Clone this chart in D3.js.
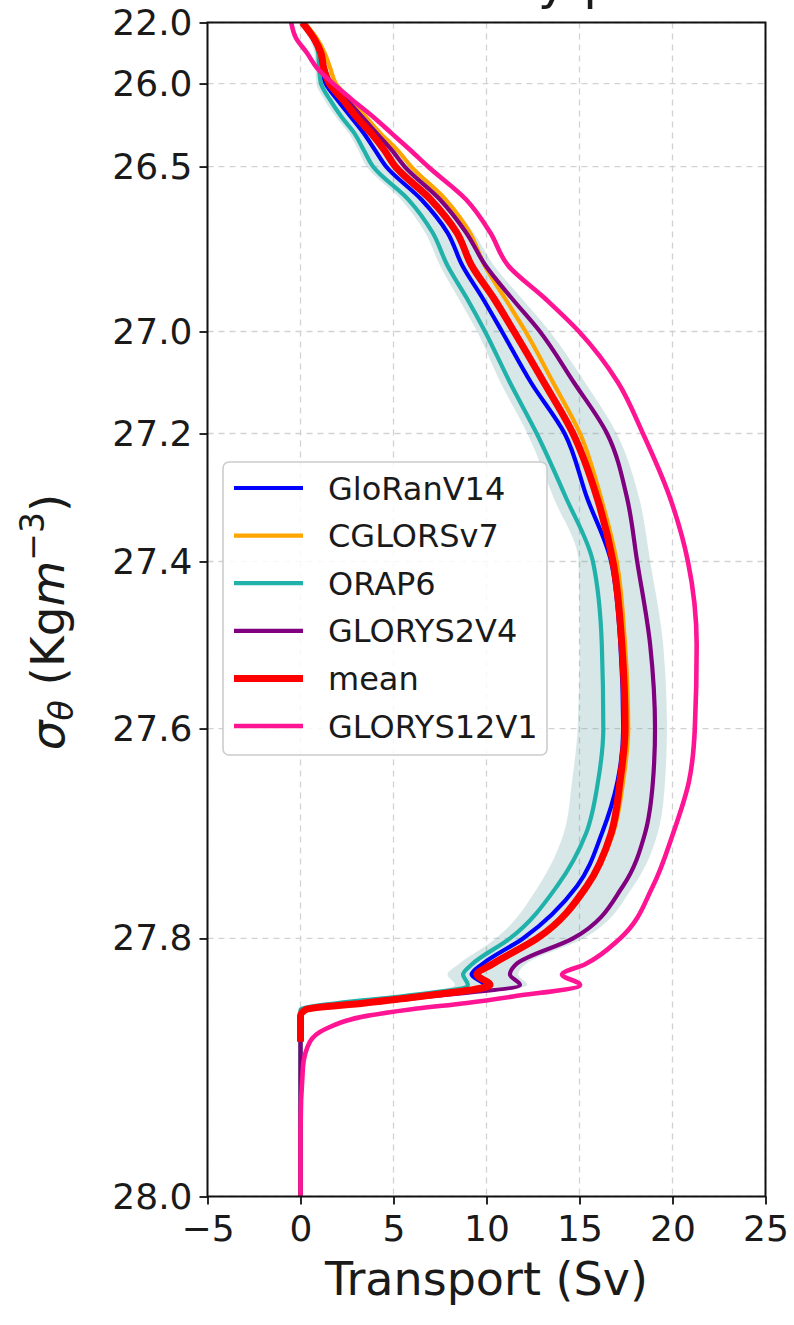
<!DOCTYPE html>
<html>
<head>
<meta charset="utf-8">
<script src="https://cdn.jsdelivr.net/npm/d3@7"></script>
<style>
  html, body { margin: 0; padding: 0; background: #fff; }
  svg { display: block; }
  text { font-family: "DejaVu Sans", sans-serif; fill: #1a1a1a; }
</style>
</head>
<body>
<svg id="chart" width="794" height="1325"></svg>
<script>
// ---------------- data ----------------
const sigma = [22.0, 23.0, 24.0, 25.0, 26.0, 26.1, 26.2, 26.3, 26.4, 26.5, 26.6, 26.7, 26.8, 26.9,
  27.0, 27.1, 27.2, 27.3, 27.4, 27.5, 27.6, 27.65, 27.7, 27.75, 27.8, 27.82, 27.828, 27.836,
  27.845, 27.85, 27.855, 27.86, 27.87, 27.88, 27.9, 27.95, 28.0];

const gloRanV14 = [0.1, 0.7, 1.05, 1.15, 1.35, 2.0, 2.7, 3.4, 4.0, 4.6, 6.5, 7.9, 8.7, 9.8,
  10.83, 12.39, 14.2, 15.4, 16.7, 17.2, 17.35, 17.05, 16.2, 14.87, 11.96, 9.76, 9.2, 9.86,
  6.2, 3.2, 0.13, 0, 0, 0, 0, 0, 0];
const cglorsV7 = [0.2, 0.85, 1.3, 1.6, 1.9, 2.7, 3.5, 4.3, 5.2, 5.95, 7.8, 9.1, 9.9, 11.0,
  12.1, 13.58, 15.03, 16.15, 17.0, 17.45, 17.62, 17.35, 16.8, 15.45, 12.8, 10.3, 9.55, 10.1,
  6.3, 3.3, 0.25, 0, 0, 0, 0, 0, 0];
const orap6 = [0.1, 0.65, 0.95, 1.0, 1.1, 1.6, 2.2, 2.9, 3.4, 3.9, 5.8, 7.1, 7.9, 8.95,
  9.92, 11.26, 12.7, 14.27, 15.72, 16.2, 16.28, 16.0, 15.35, 13.8, 11.26, 9.22, 8.74, 9.0,
  5.35, 2.0, 0, 0, 0, 0, 0, 0, 0];
const glorys2V4 = [0.1, 0.75, 1.15, 1.3, 1.65, 2.5, 3.3, 4.1, 4.9, 5.6, 7.5, 8.9, 9.95, 11.37,
  12.87, 14.7, 16.48, 17.55, 18.1, 18.8, 19.06, 18.95, 18.52, 17.34, 14.65, 11.59, 11.26, 11.8,
  6.96, 3.84, 0.4, 0, 0, 0, 0, 0, 0];
// mean of the four reanalyses (hidden under GLORYS12V1 at the deepest levels)
const meanT = [0.1, 0.7, 1.1, 1.25, 1.55, 2.3, 3.0, 3.8, 4.5, 5.1, 7.0, 8.4, 9.2, 10.4,
  11.48, 13.09, 14.65, 15.94, 16.8, 17.28, 17.45, 17.18, 16.7, 15.4, 12.72, 10.3, 9.49, 10.19,
  6.42, 3.47, 0.3, 0, 0, 0, null, null, null];
const glorys12V1 = [-0.5, -0.25, 0.35, 0.9, 1.75, 2.8, 3.9, 4.9, 5.9, 6.85, 8.9, 10.2, 11.16, 13.15,
  14.97, 17.07, 18.41, 19.86, 20.83, 21.3, 21.2, 20.89, 20.03, 18.95, 17.18, 15.3, 14.06, 15.03,
  11.42, 8.95, 5.88, 3.57, 1.37, 0.51, 0.13, 0, 0];

const bandLower = [-0.1, 0.45, 0.75, 0.8, 0.85, 1.3, 1.9, 2.6, 3.1, 3.55, 5.4, 6.7, 7.5, 8.5,
  9.5, 10.75, 12.2, 13.6, 14.95, 15.0, 14.9, 14.6, 14.15, 12.8, 10.5, 8.5, 7.9, 8.3,
  4.8, 1.6, 0, 0, 0, 0, 0, 0, 0];
const bandUpper = [0.3, 0.95, 1.4, 1.6, 1.95, 2.8, 3.6, 4.4, 5.2, 5.95, 7.9, 9.3, 10.4, 11.9,
  13.4, 15.3, 17.0, 18.2, 18.8, 19.5, 19.7, 19.6, 19.2, 17.9, 15.2, 12.1, 11.7, 12.2,
  7.4, 4.2, 0.6, 0, 0, 0, 0, 0, 0];

const seriesNames = ["GloRanV14", "CGLORSv7", "ORAP6", "GLORYS2V4", "mean", "GLORYS12V1"];
const seriesValues = [gloRanV14, cglorsV7, orap6, glorys2V4, meanT, glorys12V1];
const seriesColors = ["#0000ff", "#ffa500", "#20b2aa", "#800080", "#ff0000", "#ff1493"];

const xTicks = [-5, 0, 5, 10, 15, 20, 25];
const yTicks = [22.0, 26.0, 26.5, 27.0, 27.2, 27.4, 27.6, 27.8, 28.0];

// ---------------- layout ----------------
const plot = { left: 207.5, right: 765.5, top: 22.5, bottom: 1196.5 };
// relative vertical position of each y tick inside the plot (stretched density axis)
const yTickFrac = [0, 0.052, 0.1227, 0.2632, 0.3501, 0.4591, 0.6014, 0.7802, 1.0];
const lineW = [4.2, 4.2, 4.2, 4.2, 7, 4.6];

const svg = d3.select("#chart");
const H = plot.bottom - plot.top;

const x = d3.scaleLinear().domain([-5, 25]).range([plot.left, plot.right]);
const y = d3.scaleLinear().domain(yTicks).range(yTickFrac.map(f => plot.top + f * H));

svg.append("defs").append("clipPath").attr("id", "clip")
  .append("rect").attr("x", plot.left).attr("y", plot.top)
  .attr("width", plot.right - plot.left).attr("height", H);

// title (its upper part lies above the picture, as in the reference)
svg.append("text").attr("x", (plot.left + plot.right) / 2).attr("y", -1)
  .attr("text-anchor", "middle").style("font-size", "50px").text("Mean density profile");

// grid
const grid = svg.append("g");
grid.selectAll("line.gx").data(xTicks).join("line")
  .attr("x1", d => x(d)).attr("x2", d => x(d))
  .attr("y1", plot.top).attr("y2", plot.bottom)
  .attr("stroke", "#d2d2d2").attr("stroke-width", 1.3).attr("stroke-dasharray", "6,5");
grid.selectAll("line.gy").data(yTicks).join("line")
  .attr("y1", d => y(d)).attr("y2", d => y(d))
  .attr("x1", plot.left).attr("x2", plot.right)
  .attr("stroke", "#d2d2d2").attr("stroke-width", 1.3).attr("stroke-dasharray", "6,5");

const g = svg.append("g").attr("clip-path", "url(#clip)");

// spread band
const bandData = sigma.map((s, i) => ({ s, lo: bandLower[i], hi: bandUpper[i] }));
g.append("path").datum(bandData)
  .attr("d", d3.area().y(d => y(d.s)).x0(d => x(d.lo)).x1(d => x(d.hi)).curve(d3.curveMonotoneY))
  .attr("fill", "#5f9ea0").attr("fill-opacity", 0.25).attr("stroke", "none");

// lines
const lineGen = d3.line().defined(d => d.v != null)
  .x(d => x(d.v)).y(d => y(d.s)).curve(d3.curveMonotoneY);
seriesValues.forEach((vals, k) => {
  g.append("path").datum(sigma.map((s, i) => ({ s, v: vals[i] })))
    .attr("d", lineGen).attr("fill", "none")
    .attr("stroke", seriesColors[k]).attr("stroke-width", lineW[k])
    .attr("stroke-linejoin", "round").attr("stroke-linecap", "butt");
});

// axes
const xAxis = d3.axisBottom(x).tickValues(xTicks).tickFormat(d3.format("d")).tickSize(8).tickPadding(6);
const yAxis = d3.axisLeft(y).tickValues(yTicks).tickFormat(d3.format(".1f")).tickSize(8).tickPadding(7);
const gx = svg.append("g").attr("transform", `translate(0,${plot.bottom})`).call(xAxis);
const gy = svg.append("g").attr("transform", `translate(${plot.left},0)`).call(yAxis);
[gx, gy].forEach(a => {
  a.select(".domain").remove();
  a.selectAll(".tick line").attr("stroke", "#111").attr("stroke-width", 1.8);
  a.selectAll(".tick text").style("font-size", "36px").attr("fill", "#1a1a1a")
    .style("font-family", "DejaVu Sans, sans-serif");
});
gx.selectAll(".tick text").attr("dy", "0.84em");

// frame
svg.append("rect").attr("x", plot.left).attr("y", plot.top)
  .attr("width", plot.right - plot.left).attr("height", H)
  .attr("fill", "none").attr("stroke", "#111").attr("stroke-width", 2);

// axis labels
svg.append("text").attr("x", (plot.left + plot.right) / 2).attr("y", 1295)
  .attr("text-anchor", "middle").style("font-size", "46px").text("Transport (Sv)");

const yl = svg.append("text").attr("transform", `translate(64,622) rotate(-90)`)
  .attr("text-anchor", "middle").style("font-size", "47px");
yl.append("tspan").style("font-style", "italic").text("σ");
yl.append("tspan").style("font-style", "italic").style("font-size", "33px").attr("dy", "9").text("θ");
yl.append("tspan").attr("dy", "-9").text(" (Kg");
yl.append("tspan").style("font-style", "italic").text("m");
yl.append("tspan").style("font-size", "33px").attr("dy", "-20").text("−3");
yl.append("tspan").attr("dy", "20").text(")");

// legend
const leg = { x: 223, y: 462, w: 324, h: 293, row0: 488, step: 47.6 };
svg.append("rect").attr("x", leg.x).attr("y", leg.y).attr("width", leg.w).attr("height", leg.h)
  .attr("rx", 6).attr("fill", "#fff").attr("fill-opacity", 0.85)
  .attr("stroke", "#cccccc").attr("stroke-width", 1.6);
const items = svg.append("g").selectAll("g").data(seriesNames).join("g")
  .attr("transform", (d, i) => `translate(0,${leg.row0 + i * leg.step})`);
items.append("line").attr("x1", 234).attr("x2", 303)
  .attr("stroke", (d, i) => seriesColors[i]).attr("stroke-width", (d, i) => lineW[i]);
items.append("text").attr("x", 328).attr("dy", "0.36em").style("font-size", "32px").text(d => d);
</script>
</body>
</html>
